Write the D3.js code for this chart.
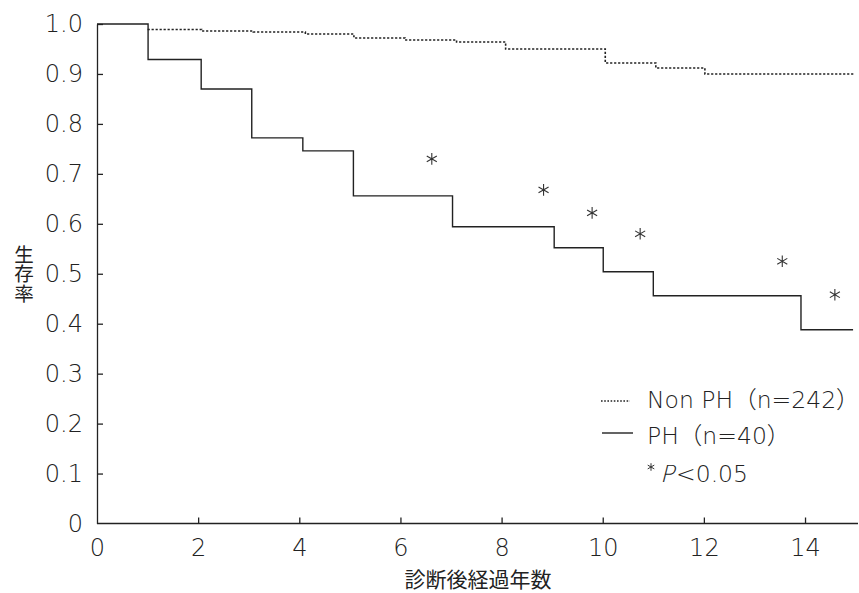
<!DOCTYPE html>
<html>
<head>
<meta charset="utf-8">
<script src="https://cdn.jsdelivr.net/npm/d3@7/dist/d3.min.js"></script>
<style>
  html, body { margin: 0; padding: 0; background: #fff; }
  svg { display: block; }
  text { font-family: "Noto Sans CJK JP", "Noto Sans", sans-serif; fill: #222; }
  .lat { font-family: "DejaVu Sans", "Noto Sans CJK JP", sans-serif; font-weight: 200; }
</style>
</head>
<body>
<svg id="chart" width="859" height="593"></svg>
<script>
// ---- Data ----
const phTimes   = [0, 1.01, 2.06, 3.06, 4.07, 5.07, 7.03, 9.04, 10.01, 11.0, 13.92];
const phSurv    = [1.0, 0.929, 0.870, 0.772, 0.746, 0.656, 0.594, 0.552, 0.504, 0.456, 0.388];
const phEnd     = 14.95;

const nonPhTimes = [0, 1.0, 2.07, 3.09, 4.12, 5.08, 6.09, 7.11, 8.08, 10.05, 11.05, 12.02];
const nonPhSurv  = [1.0, 0.989, 0.986, 0.984, 0.980, 0.972, 0.968, 0.964, 0.950, 0.922, 0.912, 0.900];
const nonPhEnd   = 14.99;

const starX = [6.62, 8.83, 9.79, 10.74, 13.55, 14.59];
const starY = [0.730, 0.668, 0.622, 0.580, 0.525, 0.458];

const xTicks = [0, 2, 4, 6, 8, 10, 12, 14];
const yTicks = [0, 0.1, 0.2, 0.3, 0.4, 0.5, 0.6, 0.7, 0.8, 0.9, 1.0];
const yTickLabels = ["0", "0.1", "0.2", "0.3", "0.4", "0.5", "0.6", "0.7", "0.8", "0.9", "1.0"];

const xTitle = "診断後経過年数";
const yTitle = "生存率";
const legendLabels = ["Non PH（n=242）", "PH（n=40）"];

// ---- Layout ----
const svg = d3.select("#chart");
const x = d3.scaleLinear().domain([0, 15]).range([97, 855.6]);
const y = d3.scaleLinear().domain([0, 1]).range([523.5, 24]);
const ink = "#222";

// axes
const xAxis = d3.axisBottom(x).tickValues(xTicks).tickSize(-6).tickSizeOuter(0).tickPadding(15)
  .tickFormat(d3.format("d"));
const gx = svg.append("g").attr("transform", `translate(0,${y(0)})`).call(xAxis);
gx.select(".domain").attr("d", `M${x(0)},0H858`);

const yAxis = d3.axisLeft(y).tickValues(yTicks).tickSize(-6).tickSizeOuter(0).tickPadding(14)
  .tickFormat((d, i) => yTickLabels[i]);
const gy = svg.append("g").attr("transform", `translate(${x(0)},0)`).call(yAxis);

[gx, gy].forEach(g => {
  g.selectAll(".domain").attr("stroke", ink).attr("stroke-width", 1.3);
  g.selectAll(".tick line").attr("stroke", ink).attr("stroke-width", 1.3);
  g.selectAll(".tick text").attr("class", "lat").attr("font-size", 24).attr("fill", ink)
    .attr("font-family", null);
});
gy.selectAll(".tick").filter(d => d === 0).select("line").remove();
gx.selectAll(".tick").filter(d => d === 0).select("line").remove();

// step lines
function stepPoints(times, surv, end) {
  const pts = times.map((t, i) => [t, surv[i]]);
  pts.push([end, surv[surv.length - 1]]);
  return pts;
}
const line = d3.line().x(d => x(d[0])).y(d => y(d[1])).curve(d3.curveStepAfter);

svg.append("path")
  .datum(stepPoints(nonPhTimes, nonPhSurv, nonPhEnd).slice(1))
  .attr("d", line)
  .attr("fill", "none").attr("stroke", ink).attr("stroke-width", 1.6)
  .attr("stroke-dasharray", "2.2,1.8");

svg.append("path")
  .datum(stepPoints(phTimes, phSurv, phEnd))
  .attr("d", line)
  .attr("fill", "none").attr("stroke", ink).attr("stroke-width", 1.4);

// asterisks
const star = d3.symbol().type(d3.symbolAsterisk).size(95);
svg.selectAll("path.star").data(starX).join("path")
  .attr("class", "star")
  .attr("transform", (d, i) => `translate(${x(d)},${y(starY[i])})`)
  .attr("d", star)
  .attr("fill", "none").attr("stroke", "#333").attr("stroke-width", 1.1);

// axis titles
svg.append("text").attr("x", 478).attr("y", 578).attr("text-anchor", "middle")
  .attr("dominant-baseline", "central").attr("font-size", 21).text(xTitle);

svg.append("text")
  .attr("x", 24).attr("y", 274)
  .attr("text-anchor", "middle")
  .style("writing-mode", "vertical-rl")
  .attr("font-size", 19.5).text(yTitle);

// legend
const lg = svg.append("g");
lg.append("line").attr("x1", 601).attr("x2", 630).attr("y1", 401).attr("y2", 401)
  .attr("stroke", ink).attr("stroke-width", 1.4).attr("stroke-dasharray", "1.6,1.6");
lg.append("line").attr("x1", 602).attr("x2", 633).attr("y1", 433).attr("y2", 433)
  .attr("stroke", ink).attr("stroke-width", 1.4);
lg.selectAll("text.lg").data(legendLabels).join("text")
  .attr("class", "lg lat")
  .attr("x", 647).attr("y", (d, i) => 400 + i * 36)
  .attr("dominant-baseline", "central").attr("font-size", 23.5)
  .text(d => d);

lg.append("path").attr("transform", "translate(651,467)")
  .attr("d", d3.symbol().type(d3.symbolAsterisk).size(40))
  .attr("fill", "none").attr("stroke", "#333").attr("stroke-width", 1);
// thin oblique "P" via skew of the light face
lg.append("text").attr("class", "lat")
  .attr("transform", "translate(662,474) skewX(-14)")
  .attr("dominant-baseline", "central").attr("font-size", 23.5).text("P");
lg.append("text").attr("class", "lat").attr("x", 676).attr("y", 474)
  .attr("dominant-baseline", "central").attr("font-size", 23.5).text("<0.05");
</script>
</body>
</html>
